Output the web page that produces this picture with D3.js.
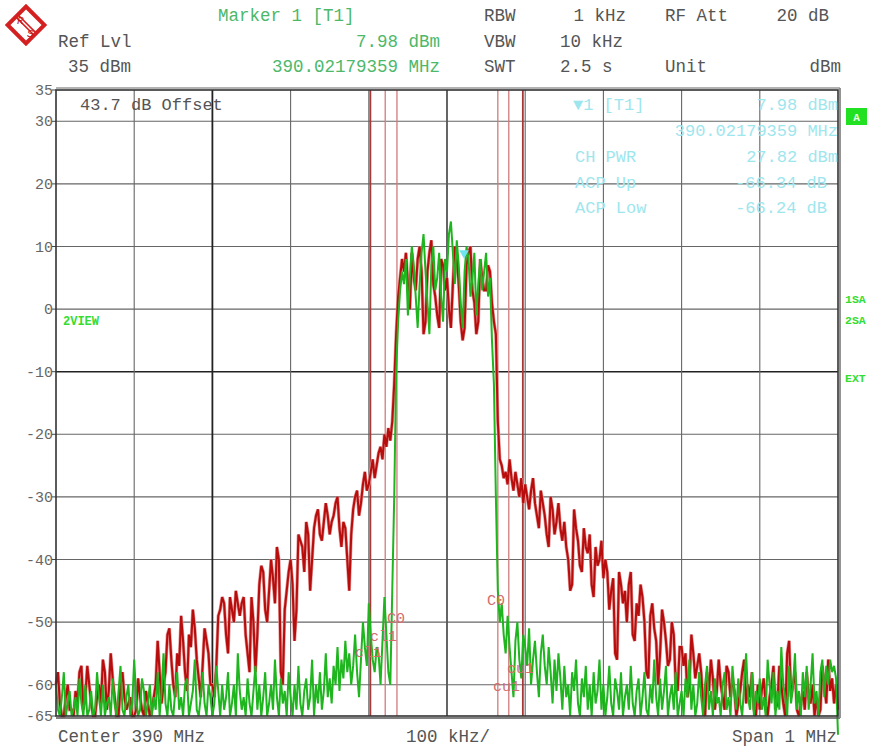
<!DOCTYPE html>
<html><head><meta charset="utf-8">
<script src="https://cdn.jsdelivr.net/npm/d3@7"></script>
<style>
html,body{margin:0;padding:0;background:#fff;}
svg{display:block;}
text{font-family:"Liberation Mono","DejaVu Sans Mono",monospace;}
</style></head>
<body>
<script>
// ---------- DATA ----------
const spanStartKHz = -500;   // relative to center 390 MHz
const spanEndKHz = 500;
const traceStepKHz = 2.5;
const redTrace = [
-60,-58,-63,-65,-65,-62,-60,-64,-64,-65,-61,-63,-58,-57,-64,-62,-57,-60,-63,-65,
-65,-62,-60,-63,-56,-58,-64,-61,-55,-59,-62,-65,-65,-60,-58,-62,-64,-63,-62,-65,
-65,-64,-59,-62,-64,-65,-61,-63,-65,-64,-62,-60,-53,-58,-63,-60,-58,-52,-51,-56,
-60,-62,-55,-57,-49,-53,-58,-61,-52,-54,-48,-51,-56,-59,-62,-57,-51,-53,-55,-60,
-60,-62,-57,-49,-48,-46,-47,-52,-55,-46,-48,-50,-45,-47,-49,-47,-46,-52,-55,-58,
-46,-50,-58,-52,-44,-41,-42,-48,-50,-45,-40,-43,-47,-38,-40,-58,-60,-48,-45,-42,
-40,-44,-53,-48,-36,-37,-38,-42,-34,-36,-45,-40,-35,-33,-32,-36,-37,-34,-31,-33,
-36,-34,-33,-31,-30,-35,-38,-34,-35,-40,-45,-36,-32,-30,-29,-33,-31,-28,-26,-29,
-28,-26,-24,-27,-25,-23,-22,-24,-20,-22,-19,-21,-18,-12,-4,2,5,8,6,9,
4,0,9,5,3,8,10,6,-4,-2,6,9,11,4,2,-1,-3,8,7,3,
5,0,-3,4,10,8,4,-2,-5,-3,7,9,10,3,1,-4,-2,8,5,3,
3,7,6,1,-2,-4,-18,-24,-25,-27,-26,-28,-24,-27,-29,-26,-28,-30,-27,-31,
-28,-30,-32,-29,-27,-31,-33,-35,-29,-31,-33,-36,-38,-30,-32,-36,-34,-31,-35,-37,
-34,-38,-40,-45,-44,-32,-35,-37,-41,-42,-35,-38,-39,-36,-44,-46,-38,-41,-40,-37,
-43,-40,-42,-48,-45,-43,-55,-56,-42,-44,-47,-45,-50,-44,-42,-52,-53,-47,-49,-44,
-46,-50,-58,-59,-49,-47,-51,-53,-60,-55,-48,-50,-53,-57,-56,-50,-52,-60,-61,-54,
-54,-57,-55,-62,-60,-52,-55,-59,-57,-55,-58,-63,-65,-58,-61,-56,-59,-64,-61,-56,
-60,-62,-64,-57,-58,-62,-59,-61,-65,-63,-61,-58,-56,-63,-60,-62,-58,-64,-65,-60,
-64,-61,-59,-63,-65,-62,-60,-57,-64,-63,-57,-60,-63,-65,-55,-53,-62,-60,-58,-64,
-65,-63,-61,-64,-58,-62,-63,-60,-65,-62,-65,-64,-57,-60,-63,-56,-61,-59,-63,-60,
-64];
const greenTrace = [
-60,-64,-65,-62,-58,-65,-63,-61,-65,-64,-62,-65,-59,-63,-65,-60,-65,-64,-61,-65,
-64,-58,-62,-65,-60,-65,-63,-62,-65,-59,-63,-65,-61,-57,-64,-65,-62,-60,-65,-63,
-56,-62,-65,-64,-59,-61,-65,-63,-60,-65,-62,-64,-58,-65,-61,-55,-63,-65,-60,-64,
-65,-61,-58,-64,-62,-65,-60,-59,-65,-63,-61,-56,-64,-65,-62,-58,-63,-65,-60,-62,
-65,-63,-57,-61,-65,-60,-64,-62,-58,-65,-63,-60,-65,-55,-61,-64,-62,-65,-59,-63,
-65,-61,-57,-64,-60,-65,-62,-58,-65,-63,-60,-64,-56,-62,-65,-59,-63,-61,-65,-58,
-62,-65,-60,-64,-57,-63,-65,-61,-59,-64,-62,-56,-65,-60,-63,-58,-64,-61,-55,-62,
-59,-63,-57,-60,-54,-61,-56,-59,-53,-58,-55,-60,-57,-52,-58,-62,-56,-50,-54,-57,
-47,-52,-56,-58,-54,-55,-60,-53,-46,-52,-58,-60,-45,-30,-10,-2,3,6,4,8,
-1,5,10,7,2,-3,4,9,12,6,1,-4,7,10,3,5,9,2,-2,8,
6,12,14,9,4,11,7,1,-3,6,10,8,2,5,9,-1,4,8,3,6,
9,2,5,-5,-12,-30,-45,-50,-47,-52,-55,-49,-54,-58,-62,-53,-50,-56,-59,-52,
-54,-57,-51,-60,-56,-53,-58,-62,-55,-52,-57,-60,-54,-58,-63,-56,-61,-55,-59,-64,
-57,-62,-60,-65,-58,-61,-56,-63,-65,-59,-62,-57,-64,-60,-65,-58,-63,-61,-56,-64,
-60,-65,-62,-57,-63,-65,-59,-61,-64,-58,-65,-62,-60,-64,-57,-63,-65,-61,-59,-65,
-62,-58,-64,-65,-60,-63,-56,-62,-65,-59,-64,-61,-57,-65,-62,-60,-64,-58,-65,-63,
-61,-65,-59,-62,-56,-64,-60,-65,-63,-58,-62,-65,-60,-57,-64,-61,-65,-59,-63,-62,
-65,-60,-58,-64,-62,-65,-57,-61,-64,-59,-63,-65,-60,-55,-62,-64,-58,-65,-61,-63,
-59,-64,-62,-65,-56,-60,-63,-58,-65,-61,-64,-54,-60,-62,-65,-57,-63,-60,-55,-64,
-61,-65,-58,-62,-57,-64,-60,-55,-63,-61,-65,-58,-56,-62,-57,-60,-56,-58,-57,-59,
-68];
const yTickValues = [35,30,20,10,0,-10,-20,-30,-40,-50,-60,-65];
const yGridValues = [30,20,10,0,-10,-20,-30,-40,-50,-60];
const xGridKHz = [-400,-300,-200,-100,0,100,200,300,400];
const channelLinesKHz = [-98,-79,-64,65,79,97];
const channelLabels = [
  {text:"C0",  f:-76.7, db:-50.1},
  {text:"cl1", f:-98.5, db:-53.0},
  {text:"cl1", f:-117.6,db:-55.6},
  {text:"C0",  f:51.0,  db:-47.2},
  {text:"cu1", f:76.7,  db:-58.1},
  {text:"cu1", f:58.8,  db:-61.0}
];
const marker = {f:21.79, db:7.98};
const headerGrey = [
  {t:"Ref Lvl", x:58, y:47, a:"start"},
  {t:"35 dBm", x:68, y:72, a:"start"},
  {t:"RBW", x:484, y:21, a:"start"},
  {t:"1 kHz", x:626, y:21, a:"end"},
  {t:"RF Att", x:665, y:21, a:"start"},
  {t:"20 dB", x:829, y:21, a:"end"},
  {t:"VBW", x:484, y:47, a:"start"},
  {t:"10 kHz", x:560, y:47, a:"start"},
  {t:"SWT", x:484, y:72, a:"start"},
  {t:"2.5 s", x:560, y:72, a:"start"},
  {t:"Unit", x:665, y:72, a:"start"},
  {t:"dBm", x:841, y:72, a:"end"}
];
const headerGreen = [
  {t:"Marker 1 [T1]", x:218, y:21, a:"start"},
  {t:"7.98 dBm", x:440, y:47, a:"end"},
  {t:"390.02179359 MHz", x:440, y:72, a:"end"}
];
const markerInfo = [
  {t:"\u25BC1 [T1]", x:573, y:110, a:"start"},
  {t:"7.98 dBm", x:838, y:110, a:"end"},
  {t:"390.02179359 MHz", x:838, y:136, a:"end"},
  {t:"CH PWR", x:575, y:162, a:"start"},
  {t:"27.82 dBm", x:838, y:162, a:"end"},
  {t:"ACP Up", x:575, y:188, a:"start"},
  {t:"-66.34 dB", x:827, y:188, a:"end"},
  {t:"ACP Low", x:575, y:213, a:"start"},
  {t:"-66.24 dB", x:827, y:213, a:"end"}
];

// ---------- LAYOUT ----------
const W = 875, H = 746;
const plot = {l:56, r:838, t:90, b:716};
const svg = d3.select("body").append("svg").attr("width",W).attr("height",H);

const x = d3.scaleLinear().domain([spanStartKHz, spanEndKHz]).range([plot.l, plot.r]);
const y = d3.scaleLinear().domain([-65, 35]).range([plot.b, plot.t]);
const fOf = i => spanStartKHz + i*traceStepKHz;

// grid
const g = svg.append("g");
g.selectAll("line.hg").data(yGridValues).join("line")
  .attr("x1",plot.l).attr("x2",plot.r)
  .attr("y1",d=>y(d)).attr("y2",d=>y(d))
  .attr("stroke", d=> d===-10 ? "#222" : "#666")
  .attr("stroke-width", d=> d===-10 ? 1.6 : 1.1);
g.selectAll("line.vg").data(xGridKHz).join("line")
  .attr("y1",plot.t).attr("y2",plot.b)
  .attr("x1",d=>x(d)).attr("x2",d=>x(d))
  .attr("stroke", d=> d===-300 ? "#222" : (d===0 ? "#555" : "#666"))
  .attr("stroke-width", d=> (d===-300||d===0) ? 1.8 : 1.1);

// channel lines
g.selectAll("line.ch").data(channelLinesKHz).join("line")
  .attr("y1",plot.t).attr("y2",plot.b)
  .attr("x1",d=>x(d)).attr("x2",d=>x(d))
  .attr("stroke", d=> (d===-98||d===97) ? "#a83838" : "#cf7c7c")
  .attr("stroke-width", d=> (d===-98||d===97) ? 1.8 : 1.3);

// y tick labels
svg.append("g").selectAll("text").data(yTickValues).join("text")
  .attr("x", plot.l-3).attr("y", d=>y(d)+5)
  .attr("text-anchor","end").attr("font-size",15).attr("fill","#666")
  .text(d=>d);
svg.append("g").selectAll("line").data(yTickValues).join("line")
  .attr("x1",plot.l-4).attr("x2",plot.l).attr("y1",d=>y(d)).attr("y2",d=>y(d))
  .attr("stroke","#444");

// traces
const line = d3.line().x((d,i)=>x(fOf(i))).y(d=>y(d));
svg.append("path").datum(redTrace).attr("d",line)
  .attr("fill","none").attr("stroke","#e49a9a").attr("stroke-width",3.4);
svg.append("path").datum(redTrace).attr("d",line)
  .attr("fill","none").attr("stroke","#b80d0d").attr("stroke-width",2.1);
svg.append("path").datum(greenTrace).attr("d",line)
  .attr("fill","none").attr("stroke","#1fb51f").attr("stroke-width",2);

// channel labels
svg.append("g").selectAll("text").data(channelLabels).join("text")
  .attr("x",d=>x(d.f)).attr("y",d=>y(d.db))
  .attr("font-size",15).attr("fill","#d26c6c").text(d=>d.text);

// marker
svg.append("path")
  .attr("d", d3.symbol(d3.symbolTriangle, 40)())
  .attr("transform", `translate(${x(marker.f)},${y(marker.db)-6}) rotate(180)`)
  .attr("fill","#6fe3ef");

// border
svg.append("rect").attr("x",plot.l).attr("y",plot.t).attr("width",plot.r-plot.l).attr("height",plot.b-plot.t)
  .attr("fill","none").attr("stroke","#333").attr("stroke-width",1.6);
svg.append("line").attr("x1",plot.l).attr("x2",plot.r+2).attr("y1",plot.t-2).attr("y2",plot.t-2).attr("stroke","#999").attr("stroke-width",1.5);
svg.append("line").attr("x1",plot.l).attr("x2",plot.r+2).attr("y1",plot.b+2).attr("y2",plot.b+2).attr("stroke","#555").attr("stroke-width",1.5);
svg.append("line").attr("x1",plot.r+2).attr("x2",plot.r+2).attr("y1",plot.t-2).attr("y2",plot.b+2).attr("stroke","#888").attr("stroke-width",1.8);

// plot annotations
svg.append("text").attr("x",80).attr("y",110).attr("font-size",17).attr("fill","#555").text("43.7 dB Offset");
svg.append("g").selectAll("text").data(markerInfo).join("text")
  .attr("x",d=>d.x).attr("y",d=>d.y).attr("text-anchor",d=>d.a)
  .attr("font-size",17).attr("fill","#9ee6ee").text(d=>d.t);
svg.append("text").attr("x",63).attr("y",325).attr("font-size",12).attr("font-weight","bold").attr("fill","#33dd33").text("2VIEW");

// right side labels
svg.append("rect").attr("x",846).attr("y",108).attr("width",21).attr("height",17).attr("fill","#22e022");
svg.append("text").attr("x",856.5).attr("y",121).attr("text-anchor","middle").attr("font-size",11).attr("font-weight","bold").attr("fill","#eaffea").text("A");
[["1SA",303],["2SA",324],["EXT",382]].forEach(([t,yy])=>{
  svg.append("text").attr("x",845).attr("y",yy).attr("font-size",11.5).attr("font-weight","bold").attr("fill","#33dd33").text(t);
});

// header
svg.append("g").selectAll("text").data(headerGrey).join("text")
  .attr("x",d=>d.x).attr("y",d=>d.y).attr("text-anchor",d=>d.a)
  .attr("font-size",17.5).attr("fill","#555").text(d=>d.t);
svg.append("g").selectAll("text").data(headerGreen).join("text")
  .attr("x",d=>d.x).attr("y",d=>d.y).attr("text-anchor",d=>d.a)
  .attr("font-size",17.5).attr("fill","#4cb86a").text(d=>d.t);

// bottom
svg.append("text").attr("x",58).attr("y",742).attr("font-size",17.5).attr("fill","#555").text("Center 390 MHz");
svg.append("text").attr("x",406).attr("y",742).attr("font-size",17.5).attr("fill","#555").text("100 kHz/");
svg.append("text").attr("x",837).attr("y",742).attr("text-anchor","end").attr("font-size",17.5).attr("fill","#555").text("Span 1 MHz");

// logo
const logo = svg.append("g").attr("transform","translate(26,25) rotate(45)");
logo.append("rect").attr("x",-13).attr("y",-13).attr("width",26).attr("height",26)
  .attr("fill","none").attr("stroke","#d42020").attr("stroke-width",4);
logo.append("line").attr("x1",-13).attr("x2",13).attr("y1",-1.5).attr("y2",-1.5).attr("stroke","#d42020").attr("stroke-width",1.6);
logo.append("line").attr("x1",-13).attr("x2",13).attr("y1",1.5).attr("y2",1.5).attr("stroke","#d42020").attr("stroke-width",1.6);
svg.append("text").attr("x",17).attr("y",24).attr("font-size",11).attr("font-style","italic").attr("font-family","Liberation Serif").attr("fill","#c01818").text("R");
svg.append("text").attr("x",27).attr("y",37).attr("font-size",11).attr("font-style","italic").attr("font-family","Liberation Serif").attr("fill","#c01818").text("S");
</script>
</body></html>
